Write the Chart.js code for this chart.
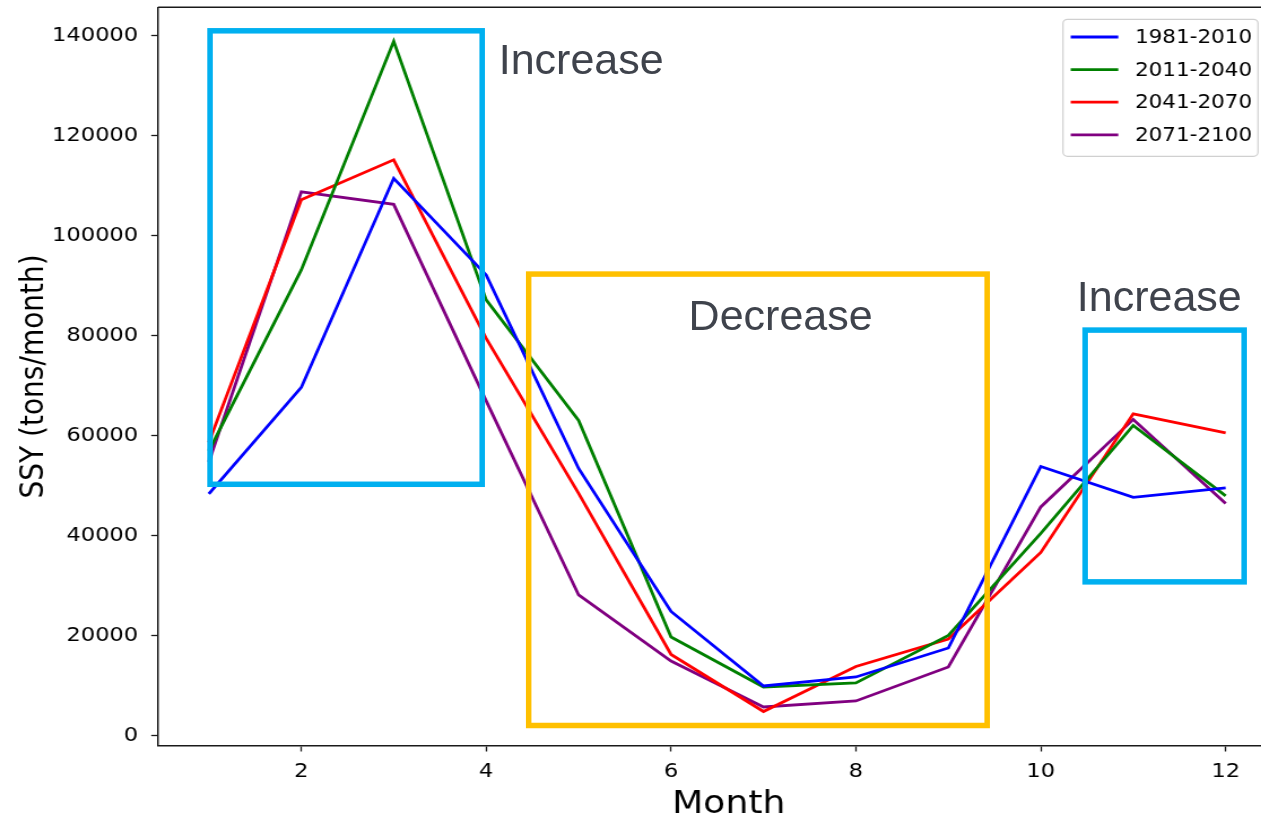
<!DOCTYPE html>
<html>
<head>
<meta charset="utf-8">
<script src="https://cdn.jsdelivr.net/npm/chart.js@4.4.0/dist/chart.umd.min.js"></script>
<style>
html, body { margin: 0; padding: 0; background: #fff; overflow: hidden; width: 1261px; height: 819px; }
#wrap { position: relative; width: 1261px; height: 819px; overflow: hidden; }
#grafico { position: absolute; left: 0; top: 0; transform-origin: 0 0; }
#sobre { position: absolute; left: 0; top: 0; pointer-events: none; }
</style>
</head>
<body>
<div id="wrap">
  <canvas id="grafico"></canvas>
  <canvas id="sobre" width="1261" height="819"></canvas>
</div>
<script>
// Dados (SSY mensal, t/mês)
const meses = [1, 2, 3, 4, 5, 6, 7, 8, 9, 10, 11, 12];
const periodos = ['1981-2010', '2011-2040', '2041-2070', '2071-2100'];
const ssy1981 = [48400, 69700, 111500, 92200, 53500, 24900, 10000, 11800, 17600, 53900, 47700, 49600];
const ssy2011 = [57000, 93200, 138900, 87200, 63100, 19800, 9800, 10600, 20100, 40500, 62100, 48000];
const ssy2041 = [58700, 107200, 115200, 79500, 48500, 16300, 4900, 13900, 19400, 36700, 64400, 60600];
const ssy2071 = [54800, 108800, 106300, 67000, 28200, 15000, 5800, 7000, 13800, 45800, 63300, 46500];
const xTicks = [2, 4, 6, 8, 10, 12];
const yTicks = [0, 20000, 40000, 60000, 80000, 100000, 120000, 140000];

const cores = ['#0000ff', '#008000', '#ff0000', '#800080'];
const series = [ssy1981, ssy2011, ssy2041, ssy2071];

// a figura original está esticada na horizontal
const S = 1.13;
const larguraExt = 1290;
const canvas = document.getElementById('grafico');
canvas.width = Math.round(larguraExt / S);
canvas.height = 819;
canvas.style.transform = 'scaleX(' + S + ')';

const FONTE = '"DejaVu Sans", sans-serif';

// caixas e textos de destaque (em unidades dos eixos)
const caixas = [
    { x0: 1.013, x1: 3.957, y0: 50330, y1: 141000, cor: '#00b0f0' },
    { x0: 4.46, x1: 9.42, y0: 2100, y1: 92360, cor: '#ffc000' },
    { x0: 10.48, x1: 12.20, y0: 30820, y1: 81160, cor: '#00b0f0' }
];
const textos = [
    { x: 4.136, y: 132400, txt: 'Increase' },
    { x: 6.19, y: 81160, txt: 'Decrease' },
    { x: 10.39, y: 84960, txt: 'Increase' }
];

const datasets = periodos.map((p, i) => ({
    label: p,
    data: meses.map((m, j) => ({ x: m, y: series[i][j] })),
    borderColor: cores[i],
    backgroundColor: cores[i],
    borderWidth: 2.8,
    pointRadius: 0,
    tension: 0,
    fill: false
}));

// moldura superior + legenda no estilo matplotlib
const molduraLegenda = {
    id: 'molduraLegenda',
    afterDraw(chart) {
        const ctx = chart.ctx;
        const a = chart.chartArea;
        ctx.save();
        ctx.strokeStyle = '#1a1a1a';
        ctx.lineWidth = 1.5;
        ctx.beginPath();
        ctx.moveTo(a.left, a.top);
        ctx.lineTo(a.right, a.top);
        ctx.lineTo(a.right, a.bottom);
        ctx.stroke();

        const bw = 195 / S, bh = 137;
        const bx = a.right - 18.5 / S - bw, by = a.top + 12;
        ctx.fillStyle = 'rgba(255,255,255,0.85)';
        ctx.strokeStyle = '#d0d0d0';
        ctx.lineWidth = 1.2;
        ctx.beginPath();
        ctx.roundRect(bx, by, bw, bh, 4);
        ctx.fill();
        ctx.stroke();
        ctx.font = '19px ' + FONTE;
        ctx.textBaseline = 'middle';
        ctx.textAlign = 'left';
        chart.data.datasets.forEach((ds, i) => {
            const y = by + 17.7 + i * 32.6;
            ctx.strokeStyle = ds.borderColor;
            ctx.lineWidth = 2.8;
            ctx.beginPath();
            ctx.moveTo(bx + 7.7 / S, y);
            ctx.lineTo(bx + 55.3 / S, y);
            ctx.stroke();
            ctx.fillStyle = '#000';
            ctx.fillText(ds.label, bx + 72 / S, y + 1);
        });
        ctx.restore();
        desenhaDestaques(chart);
    }
};

function desenhaDestaques(chart) {
    const ov = document.getElementById('sobre');
    const ctx = ov.getContext('2d');
    const xs = chart.scales.x, ys = chart.scales.y;
    ctx.clearRect(0, 0, ov.width, ov.height);
    ctx.lineWidth = 5.5;
    caixas.forEach(c => {
        const x0 = xs.getPixelForValue(c.x0) * S, x1 = xs.getPixelForValue(c.x1) * S;
        const y0 = ys.getPixelForValue(c.y1), y1 = ys.getPixelForValue(c.y0);
        ctx.strokeStyle = c.cor;
        ctx.strokeRect(x0, y0, x1 - x0, y1 - y0);
    });
    ctx.fillStyle = '#3f434c';
    ctx.font = '43px "Liberation Sans", Arial, sans-serif';
    ctx.textBaseline = 'alphabetic';
    textos.forEach(t => {
        ctx.fillText(t.txt, xs.getPixelForValue(t.x) * S, ys.getPixelForValue(t.y));
    });
}

const config = {
    type: 'line',
    data: { datasets: datasets },
    options: {
        responsive: false,
        animation: false,
        layout: { padding: { left: 0, right: canvas.width - 1276.5 / S, top: 7.3, bottom: 0 } },
        plugins: { legend: { display: false }, tooltip: { enabled: false } },
        scales: {
            x: {
                type: 'linear',
                min: 0.45,
                max: 12.55,
                afterBuildTicks: s => { s.ticks = xTicks.map(v => ({ value: v })); },
                afterFit: s => { s.height = 819 - 745.5; s.paddingLeft = 0; s.paddingRight = 0; },
                ticks: { color: '#000', font: { family: FONTE, size: 20 }, padding: 8, maxRotation: 0 },
                grid: { drawOnChartArea: false, drawTicks: true, tickLength: 6, tickWidth: 1.3, tickColor: '#1a1a1a' },
                border: { display: true, color: '#1a1a1a', width: 1.5 },
                // espaços iniciais deslocam o rótulo um pouco para a direita, como no original
                title: { display: true, text: '  Month', color: '#000', font: { family: FONTE, size: 32, lineHeight: 0.9 }, padding: { top: 0, bottom: 0 } }
            },
            y: {
                type: 'linear',
                min: -1900,
                max: 145700,
                afterBuildTicks: s => { s.ticks = yTicks.map(v => ({ value: v })); },
                afterFit: s => { s.width = 158 / S; s.paddingTop = 0; s.paddingBottom = 0; },
                ticks: { color: '#000', font: { family: FONTE, size: 20 }, padding: 11.5, callback: v => String(v) },
                grid: { drawOnChartArea: false, drawTicks: true, tickLength: 6, tickWidth: 1.3, tickColor: '#1a1a1a' },
                border: { display: true, color: '#1a1a1a', width: 1.5 },
                title: { display: true, text: 'SSY (tons/month)', color: '#000', font: { family: FONTE, size: 28 }, padding: { top: 14, bottom: 0 } }
            }
        }
    },
    plugins: [molduraLegenda]
};

new Chart(canvas.getContext('2d'), config);
</script>
</body>
</html>
